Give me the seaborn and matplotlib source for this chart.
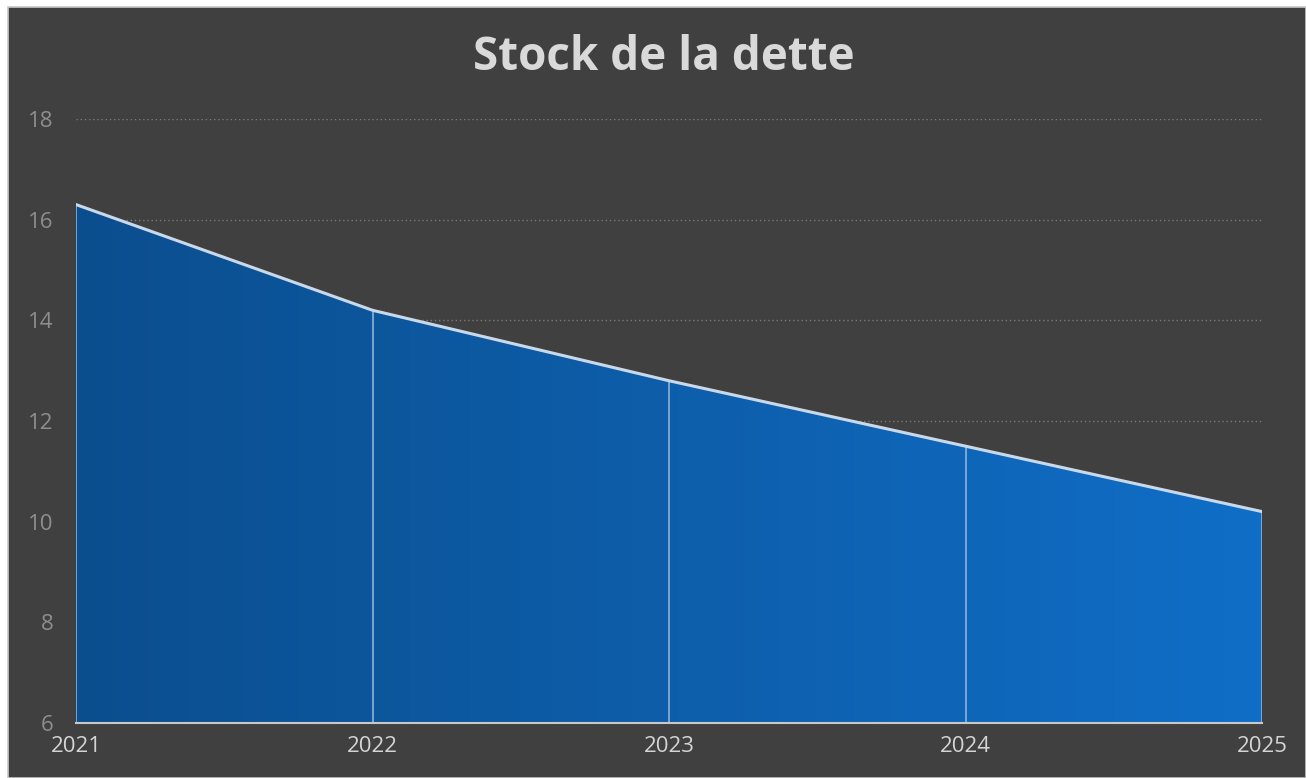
import numpy as np
import pandas as pd
import matplotlib
matplotlib.use("Agg")
import matplotlib.pyplot as plt
from matplotlib.patches import Rectangle
from matplotlib.colors import LinearSegmentedColormap
import seaborn as sns

years = [2021, 2022, 2023, 2024, 2025]
stock = [16.3, 14.2, 12.8, 11.5, 10.2]
y_ticks = [6, 8, 10, 12, 14, 16, 18]
title = "Stock de la dette"

df = pd.DataFrame({"annee": years, "stock": stock})

sns.set_theme(style="dark")
plt.rcParams['font.family'] = ['Open Sans', 'DejaVu Sans']

BG = "#404040"
fig = plt.figure(figsize=(13.06, 7.78), dpi=100)
fig.patch.set_facecolor("white")
bgrect = Rectangle((8 / 1306, 0), 1 - 8 / 1306, 1 - 7 / 778,
                   transform=fig.transFigure, facecolor=BG,
                   edgecolor="#c8c8c8", linewidth=1.2, zorder=-10)
fig.add_artist(bgrect)

ax = fig.add_axes([76 / 1306, 55 / 778, (1262 - 76) / 1306, (723 - 119) / 778])
ax.set_zorder(1)
ax.patch.set_alpha(0)

# gridlines
for t in y_ticks[1:]:
    ax.axhline(t, color="#7a7a7a", linestyle=(0, (1, 2)), linewidth=1.0, zorder=1)

# area with horizontal gradient
poly = ax.fill_between(df["annee"], df["stock"], y_ticks[0], color="none", zorder=2)
cmap = LinearSegmentedColormap.from_list("g", ["#0b4e8e", "#106ec7"])
grad = np.linspace(0, 1, 256).reshape(1, -1)
im = ax.imshow(grad, cmap=cmap, aspect="auto",
               extent=[years[0], years[-1], y_ticks[0], max(stock)],
               zorder=2, origin="lower")
path = poly.get_paths()[0]
im.set_clip_path(path, transform=ax.transData)

# vertical separators at data points
for x, y in zip(years, stock):
    ax.plot([x, x], [y_ticks[0], y], color="#8fb2d6", linewidth=1.2, zorder=3)

sns.lineplot(data=df, x="annee", y="stock", ax=ax, color="#c9d9ea",
             linewidth=2.2, zorder=4)

ax.set_xlim(years[0], years[-1])
ax.set_ylim(y_ticks[0], y_ticks[-1])

for s in ["top", "right", "left"]:
    ax.spines[s].set_visible(False)
ax.spines["bottom"].set_color("#c8c8c8")
ax.spines["bottom"].set_linewidth(1.5)
ax.spines["bottom"].set_zorder(5)

ax.set_xticks(years)
ax.set_xticklabels([str(y) for y in years], color="#d4d4d4", fontsize=16)
ax.set_yticks(y_ticks)
ax.set_yticklabels([str(t) for t in y_ticks], color="#8e8e8e", fontsize=16)
ax.tick_params(axis="x", length=0, pad=9)
ax.tick_params(axis="y", length=0, pad=16)
ax.grid(False)
ax.set_xlabel("")
ax.set_ylabel("")

fig.text(664 / 1306, 1 - 57 / 778, title, ha="center", va="center",
         fontsize=33, fontweight="bold", color="#d9d9d9")

fig.savefig("out.png", dpi=100, facecolor=fig.get_facecolor())
